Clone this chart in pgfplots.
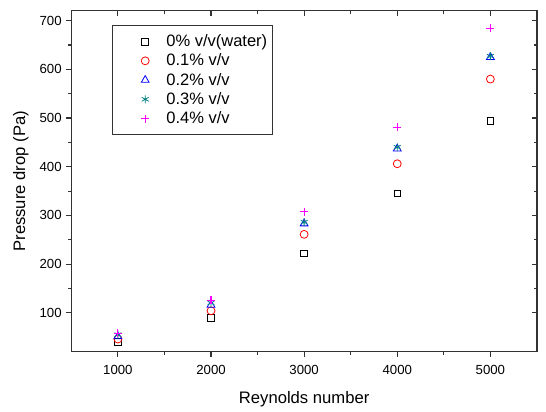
\documentclass[border=0pt]{standalone}
\usepackage{pgfplots}
\pgfplotsset{compat=1.18}
\usepackage{fontspec}
\setmainfont{Liberation Sans}
\definecolor{cteal}{RGB}{0,128,128}
\definecolor{cmag}{RGB}{255,0,255}
\definecolor{cred}{RGB}{255,0,0}
\definecolor{cblue}{RGB}{0,0,255}
\definecolor{frame}{RGB}{50,50,50}
\begin{document}
\begin{tikzpicture}
\pgfplotsset{
  common/.style={
    scale only axis, width=352.5pt, height=258pt,
    xmin=500, xmax=5500, ymin=20, ymax=720,
    xtick={1000,2000,3000,4000,5000},
    ytick={100,200,300,400,500,600,700},
    minor x tick num=1, minor y tick num=1,
    axis line style={frame, line width=0.9pt},
    every tick/.style={frame, line width=0.8pt},
    major tick length=3.8pt, minor tick length=2.2pt,
  }
}
\begin{axis}[common,
  tick align=outside,
  xtick pos=bottom, ytick pos=left,
  /pgf/number format/assume math mode=true,
  /pgf/number format/1000 sep={},
  tick label style={font=\fontsize{10pt}{12pt}\selectfont},
  xticklabel style={yshift=-3pt},
  xlabel={Reynolds number}, ylabel={Pressure drop (Pa)},
  label style={font=\fontsize{12.6pt}{14pt}\selectfont},
  xlabel style={yshift=-6pt},
  ylabel style={yshift=1.5pt},
  legend cell align=left,
  legend style={at={(0.0866,0.959)}, anchor=north west, draw=frame, line width=0.8pt,
    font=\fontsize{12.5pt}{14pt}\selectfont, inner xsep=2pt, inner ysep=5pt,
    row sep=0pt},
  legend image code/.code={\path[draw=none,fill=none] (0pt,-5pt) rectangle (37pt,5pt); \draw[#1] plot coordinates {(23pt,0pt)};},
]
\addplot[only marks, mark=square, mark size=2.5pt, draw=black, line width=0.6pt] coordinates {
(1000,40) (2000,90) (3000,222) (4000,345) (5000,494)};
\addlegendentry{0\% v/v(water)\hspace{3.5pt}}
\addplot[only marks, mark=o, mark size=3pt, draw=cred, line width=0.6pt] coordinates {
(1000,46) (2000,104) (3000,261) (4000,406) (5000,580)};
\addlegendentry{0.1\% v/v}
\addplot[only marks, mark=triangle, mark size=3.4pt, draw=cblue, line width=0.6pt] coordinates {
(1000,51) (2000,116) (3000,283) (4000,437) (5000,625)};
\addlegendentry{0.2\% v/v}
\addplot[only marks, mark=asterisk, mark size=3pt, draw=cteal, line width=0.6pt] coordinates {
(1000,55) (2000,120) (3000,286) (4000,440) (5000,627)};
\addlegendentry{0.3\% v/v}
\addplot[only marks, mark=+, mark size=3pt, draw=cmag, color=cmag, line width=0.8pt] coordinates {
(1000,58) (2000,126) (3000,307) (4000,481) (5000,684)};
\addlegendentry{0.4\% v/v}
\end{axis}
\begin{axis}[common,
  tick align=inside,
  xtick pos=top, ytick pos=right,
  xticklabels={}, yticklabels={},
]
\end{axis}
\path ([xshift=-54pt,yshift=-39pt]current axis.south west) rectangle ([xshift=3pt,yshift=8.25pt]current axis.north east);
\end{tikzpicture}
\end{document}
